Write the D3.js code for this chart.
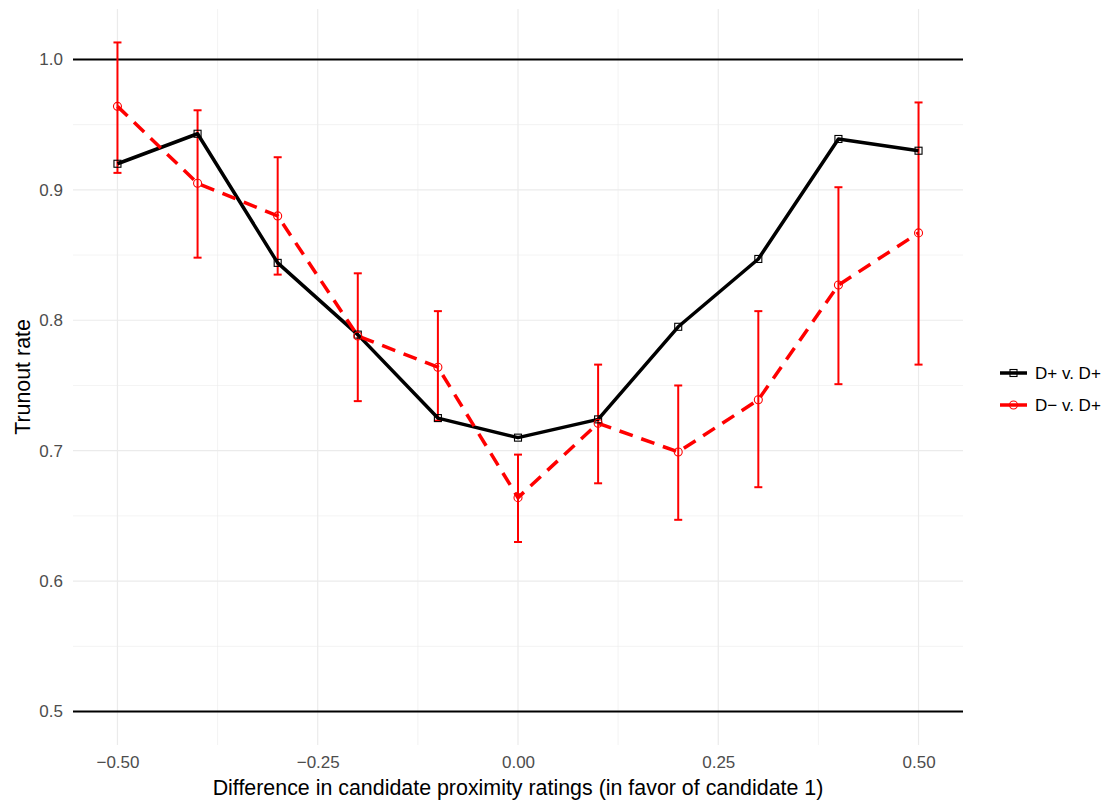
<!DOCTYPE html>
<html>
<head>
<meta charset="utf-8">
<script src="https://cdn.jsdelivr.net/npm/d3@7"></script>
<style>
  body { margin: 0; background: #fff; }
  svg { display: block; font-family: "Liberation Sans", Arial, sans-serif; }
</style>
</head>
<body>
<script>
// chart data
var xs = [-0.5, -0.4, -0.3, -0.2, -0.1, 0.0, 0.1, 0.2, 0.3, 0.4, 0.5];
var blackVals = [0.920, 0.943, 0.844, 0.789, 0.725, 0.710, 0.724, 0.795, 0.847, 0.939, 0.930];
var redVals = [0.964, 0.905, 0.880, 0.788, 0.764, 0.664, 0.721, 0.699, 0.739, 0.827, 0.867];
var redLow = [0.913, 0.848, 0.835, 0.738, 0.723, 0.630, 0.675, 0.647, 0.672, 0.751, 0.766];
var redHigh = [1.013, 0.961, 0.925, 0.836, 0.807, 0.697, 0.766, 0.750, 0.807, 0.902, 0.967];
var seriesNames = ["D+ v. D+", "D\u2212 v. D+"];
var xTicks = [-0.5, -0.25, 0, 0.25, 0.5];
var xMinor = [-0.375, -0.125, 0.125, 0.375];
var yTicks = [0.5, 0.6, 0.7, 0.8, 0.9, 1.0];
var yMinor = [0.55, 0.65, 0.75, 0.85, 0.95];
var hlines = [0.5, 1.0];

var W = 1107, H = 801;
var panel = {left: 73, right: 963, top: 9, bottom: 745};
var tickFont = "17px", titleFont = "21.4px";

var svg = d3.select("body").append("svg")
    .attr("width", W)
    .attr("height", H);

// scales, with ggplot-ish 5% expansion (errorbar caps widen x a bit)
var capHalf = 0.005;
var xLo = -0.5 - capHalf, xHi = 0.5 + capHalf;
var xPad = (xHi - xLo) * 0.05;
var x = d3.scaleLinear()
    .domain([xLo - xPad, xHi + xPad])
    .range([panel.left, panel.right]);

var yLo = 0.5, yHi = d3.max(redHigh);
var yPad = (yHi - yLo) * 0.05;
var y = d3.scaleLinear()
    .domain([yLo - yPad, yHi + yPad])
    .range([panel.bottom, panel.top]);

var grid = svg.append("g");

// minor grid
grid.selectAll(".ymin").data(yMinor).enter().append("line")
    .attr("x1", panel.left).attr("x2", panel.right)
    .attr("y1", d => y(d)).attr("y2", d => y(d))
    .attr("stroke", "#ebebeb").attr("stroke-width", 0.6);
grid.selectAll(".xmin").data(xMinor).enter().append("line")
    .attr("y1", panel.top).attr("y2", panel.bottom)
    .attr("x1", d => x(d)).attr("x2", d => x(d))
    .attr("stroke", "#ebebeb").attr("stroke-width", 0.6);

// major grid
grid.selectAll(".ymaj").data(yTicks).enter().append("line")
    .attr("x1", panel.left).attr("x2", panel.right)
    .attr("y1", d => y(d)).attr("y2", d => y(d))
    .attr("stroke", "#ebebeb").attr("stroke-width", 1.2);
grid.selectAll(".xmaj").data(xTicks).enter().append("line")
    .attr("y1", panel.top).attr("y2", panel.bottom)
    .attr("x1", d => x(d)).attr("x2", d => x(d))
    .attr("stroke", "#ebebeb").attr("stroke-width", 1.2);

// axes (labels only, no lines)
var yAxis = svg.append("g")
    .attr("transform", "translate(" + panel.left + ",0)")
    .call(d3.axisLeft(y).tickValues(yTicks).tickFormat(d3.format(".1f")).tickSize(0).tickPadding(10));
var xAxis = svg.append("g")
    .attr("transform", "translate(0," + panel.bottom + ")")
    .call(d3.axisBottom(x).tickValues(xTicks).tickFormat(d => d3.format(".2f")(d).replace("-", "\u2212")).tickSize(0).tickPadding(11));
[yAxis, xAxis].forEach(function(a) {
    a.select(".domain").remove();
    a.selectAll("text")
        .style("font-size", tickFont)
        .style("font-family", "Liberation Sans, Arial, sans-serif")
        .attr("fill", "#4d4d4d");
});

// reference lines
svg.selectAll(".hline").data(hlines).enter().append("line")
    .attr("x1", panel.left).attr("x2", panel.right)
    .attr("y1", d => y(d)).attr("y2", d => y(d))
    .attr("stroke", "black").attr("stroke-width", 2);

var line = d3.line().x(d => x(d[0])).y(d => y(d[1]));
var blackPts = xs.map((v, i) => [v, blackVals[i]]);
var redPts = xs.map((v, i) => [v, redVals[i]]);

// error bars
var eb = svg.append("g").attr("stroke", "#ff0000").attr("stroke-width", 2);
xs.forEach(function(v, i) {
    eb.append("line")
        .attr("x1", x(v)).attr("x2", x(v))
        .attr("y1", y(redLow[i])).attr("y2", y(redHigh[i]));
    [redLow[i], redHigh[i]].forEach(function(e) {
        eb.append("line")
            .attr("x1", x(v - capHalf)).attr("x2", x(v + capHalf))
            .attr("y1", y(e)).attr("y2", y(e));
    });
});

// black line
svg.append("path").datum(blackPts)
    .attr("d", line)
    .attr("fill", "none").attr("stroke", "black").attr("stroke-width", 3.5)
    .attr("stroke-linejoin", "round");

// red dashed line
svg.append("path").datum(redPts)
    .attr("d", line)
    .attr("fill", "none").attr("stroke", "#ff0000").attr("stroke-width", 3.5)
    .attr("stroke-dasharray", "14,9");

// markers
svg.selectAll(".sq").data(blackPts).enter().append("rect")
    .attr("x", d => x(d[0]) - 3.5).attr("y", d => y(d[1]) - 3.5)
    .attr("width", 7).attr("height", 7)
    .attr("fill", "none").attr("stroke", "black").attr("stroke-width", 1.1);
svg.selectAll(".ci").data(redPts).enter().append("circle")
    .attr("cx", d => x(d[0])).attr("cy", d => y(d[1]))
    .attr("r", 4)
    .attr("fill", "none").attr("stroke", "#ff0000").attr("stroke-width", 1.1);

// axis titles
svg.append("text")
    .attr("x", (panel.left + panel.right) / 2).attr("y", 795)
    .attr("text-anchor", "middle")
    .style("font-size", titleFont)
    .text("Difference in candidate proximity ratings (in favor of candidate 1)");
svg.append("text")
    .attr("transform", "translate(30," + ((panel.top + panel.bottom) / 2) + ") rotate(-90)")
    .attr("text-anchor", "middle")
    .style("font-size", titleFont)
    .text("Trunout rate");

// legend
var legY = [373, 405];
var leg = svg.append("g");
seriesNames.forEach(function(name, i) {
    var g = leg.append("g").attr("transform", "translate(1000," + legY[i] + ")");
    if (i === 0) {
        g.append("line").attr("x1", 0).attr("x2", 27).attr("y1", 0).attr("y2", 0)
            .attr("stroke", "black").attr("stroke-width", 3.5);
        g.append("rect").attr("x", 10).attr("y", -3.5).attr("width", 7).attr("height", 7)
            .attr("fill", "none").attr("stroke", "black").attr("stroke-width", 1.1);
    } else {
        g.append("line").attr("x1", 0).attr("x2", 27).attr("y1", 0).attr("y2", 0)
            .attr("stroke", "#ff0000").attr("stroke-width", 3.5);
        g.append("circle").attr("cx", 13.5).attr("cy", 0).attr("r", 4)
            .attr("fill", "none").attr("stroke", "#ff0000").attr("stroke-width", 1.1);
    }
    g.append("text").attr("x", 35).attr("y", 0).attr("dy", "0.35em")
        .style("font-size", tickFont)
        .text(name);
});
</script>
</body>
</html>
